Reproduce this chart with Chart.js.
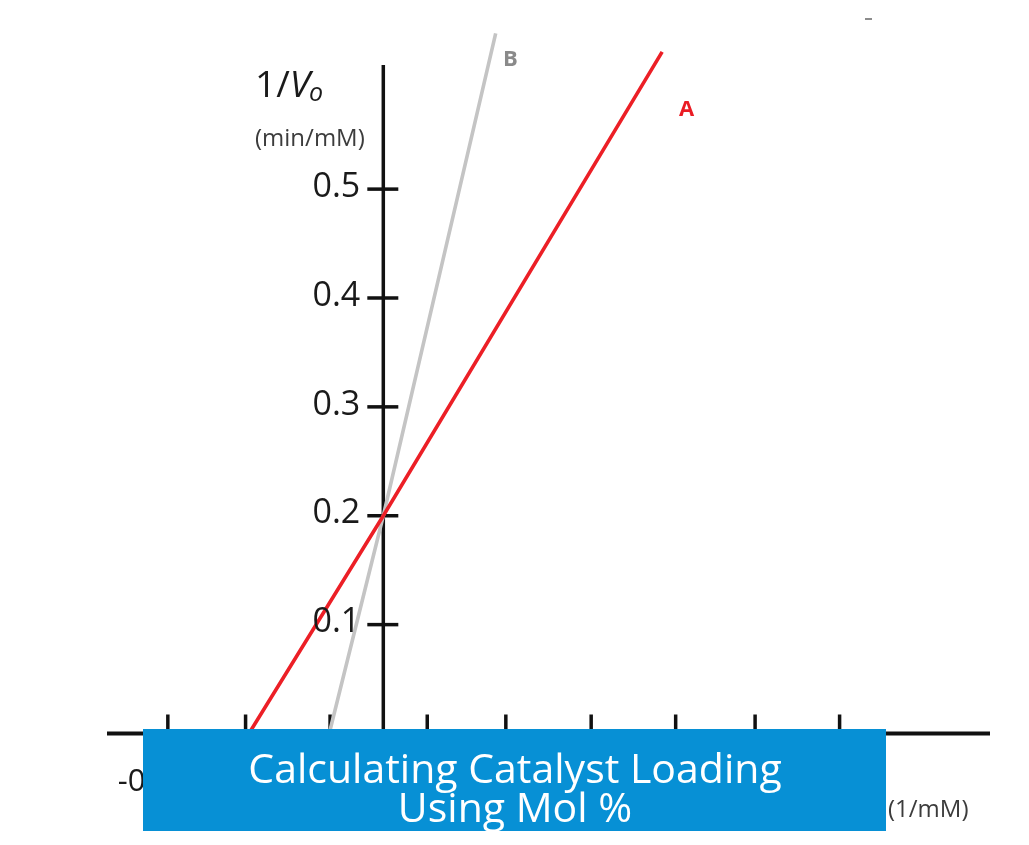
<!DOCTYPE html>
<html>
<head>
<meta charset="utf-8">
<script src="https://cdn.jsdelivr.net/npm/chart.js@4.4.1/dist/chart.umd.min.js"></script>
<style>
  html, body { margin: 0; padding: 0; background: #ffffff; }
  #wrap { position: relative; width: 1029px; height: 845px; }
</style>
</head>
<body>
<div id="wrap"><canvas id="c"></canvas></div>
<script>
// ---- data ----
const seriesNames = ['A', 'B'];
// line A (red): 1/[S] values and 1/Vo values
const lineA_x = [-0.159, 0, 0.33];
const lineA_y = [0, 0.2, 0.626];
// line B (grey)
const lineB_x = [-0.064, 0, 0.133];
const lineB_y = [0, 0.2, 0.643];
// y-axis ticks and labels
const yTickValues = [0.1, 0.2, 0.3, 0.4, 0.5];
const yTickLabels = ['0.1', '0.2', '0.3', '0.4', '0.5'];
// x-axis tick marks (hand-drawn, irregular) and the one visible label
const xTickValues = [-0.255, -0.163, -0.063, 0.052, 0.145, 0.246, 0.346, 0.44, 0.54];
const xFirstLabel = '-0.3';
const yAxisTitle = '1/';
const yAxisV = 'V';
const yAxisSub = 'o';
const yAxisUnit = '(min/mM)';
const xAxisUnit = '(1/mM)';
const bannerLines = ['Calculating Catalyst Loading', 'Using Mol %'];

function toPoints(xs, ys) { return xs.map((x, i) => ({ x: x, y: ys[i] })); }

const axesPlugin = {
  id: 'axesPlugin',
  beforeDatasetsDraw(chart) {
    const ctx = chart.ctx;
    const xs = chart.scales.x, ys = chart.scales.y;
    const ca = chart.chartArea;
    const x0 = xs.getPixelForValue(0);
    const y0 = ys.getPixelForValue(0);
    ctx.save();
    ctx.strokeStyle = '#111111';
    ctx.lineCap = 'butt';
    // x axis
    ctx.lineWidth = 4;
    ctx.beginPath();
    ctx.moveTo(ca.left, y0);
    ctx.lineTo(ca.right, y0);
    ctx.stroke();
    // y axis
    ctx.lineWidth = 3.5;
    ctx.beginPath();
    ctx.moveTo(x0, ca.top);
    ctx.lineTo(x0, y0 + 30);
    ctx.stroke();
    // x tick marks (above the axis)
    ctx.lineWidth = 3.5;
    xTickValues.forEach(v => {
      const px = xs.getPixelForValue(v);
      ctx.beginPath();
      ctx.moveTo(px, y0 - 19);
      ctx.lineTo(px, y0);
      ctx.stroke();
    });
    // y tick marks (crossing the axis)
    yTickValues.forEach(v => {
      const py = ys.getPixelForValue(v);
      ctx.beginPath();
      ctx.moveTo(x0 - 16, py);
      ctx.lineTo(x0 + 15, py);
      ctx.stroke();
    });
    ctx.restore();
  },
  afterDatasetsDraw(chart) {
    const ctx = chart.ctx;
    const xs = chart.scales.x, ys = chart.scales.y;
    const x0 = xs.getPixelForValue(0);
    ctx.save();
    // y tick labels
    ctx.fillStyle = '#1a1a1a';
    ctx.font = '34px "Open Sans"';
    ctx.textAlign = 'right';
    ctx.textBaseline = 'middle';
    yTickValues.forEach((v, i) => {
      ctx.fillText(yTickLabels[i], x0 - 23, ys.getPixelForValue(v) - 2);
    });
    // y axis title 1/Vo
    ctx.textAlign = 'left';
    ctx.textBaseline = 'alphabetic';
    ctx.fillStyle = '#1a1a1a';
    ctx.font = '37px "Open Sans"';
    const tx = 255, tb = 97;
    ctx.fillText(yAxisTitle, tx, tb);
    let w = ctx.measureText(yAxisTitle).width;
    ctx.font = 'italic 37px "Open Sans"';
    ctx.fillText(yAxisV, tx + w, tb);
    w += ctx.measureText(yAxisV).width;
    ctx.font = 'italic 25px "Open Sans"';
    ctx.fillText(yAxisSub, tx + w - 1, tb + 4);
    // unit
    ctx.fillStyle = '#3c3c3c';
    ctx.font = '24px "Open Sans"';
    ctx.textBaseline = 'middle';
    ctx.fillText(yAxisUnit, 255, 139);
    // x unit
    ctx.fillText(xAxisUnit, 888, 810);
    // x first label (partly under banner)
    ctx.fillStyle = '#1a1a1a';
    ctx.font = '31px "Open Sans"';
    ctx.fillText(xFirstLabel, xs.getPixelForValue(xTickValues[0]) - 50, 782);
    // series labels
    ctx.font = 'bold 22px "Open Sans"';
    ctx.fillStyle = '#8a8a8a';
    ctx.fillText(seriesNames[1], 503, 60);
    ctx.fillStyle = '#ea1c24';
    ctx.fillText(seriesNames[0], 679, 110);
    // small stray mark at top right
    ctx.fillStyle = '#8c8c8c';
    ctx.fillRect(865, 18, 7, 2);
    // banner
    ctx.fillStyle = '#0790d5';
    ctx.fillRect(143, 729, 743, 102);
    ctx.fillStyle = '#ffffff';
    ctx.font = '41px "Open Sans"';
    ctx.textAlign = 'center';
    ctx.textBaseline = 'alphabetic';
    ctx.fillText(bannerLines[0], 515, 783);
    ctx.fillText(bannerLines[1], 515, 822);
    ctx.restore();
  }
};

new Chart(document.getElementById('c'), {
  type: 'scatter',
  data: {
    datasets: [
      {
        label: seriesNames[0],
        data: toPoints(lineA_x, lineA_y),
        showLine: true,
        borderColor: '#ec1f26',
        borderWidth: 3.6,
        pointRadius: 0,
        tension: 0,
        clip: false
      },
      {
        label: seriesNames[1],
        data: toPoints(lineB_x, lineB_y),
        showLine: true,
        borderColor: '#c4c4c4',
        borderWidth: 3.6,
        pointRadius: 0,
        tension: 0,
        clip: false
      }
    ]
  },
  options: {
    responsive: true,
    maintainAspectRatio: false,
    animation: false,
    layout: { padding: { left: 107, right: 39, top: 65, bottom: 111.5 } },
    plugins: { legend: { display: false }, tooltip: { enabled: false } },
    scales: {
      x: { type: 'linear', display: false, min: -0.327, max: 0.718 },
      y: { type: 'linear', display: false, min: 0, max: 0.614 }
    }
  },
  plugins: [axesPlugin]
});
</script>
</body>
</html>
